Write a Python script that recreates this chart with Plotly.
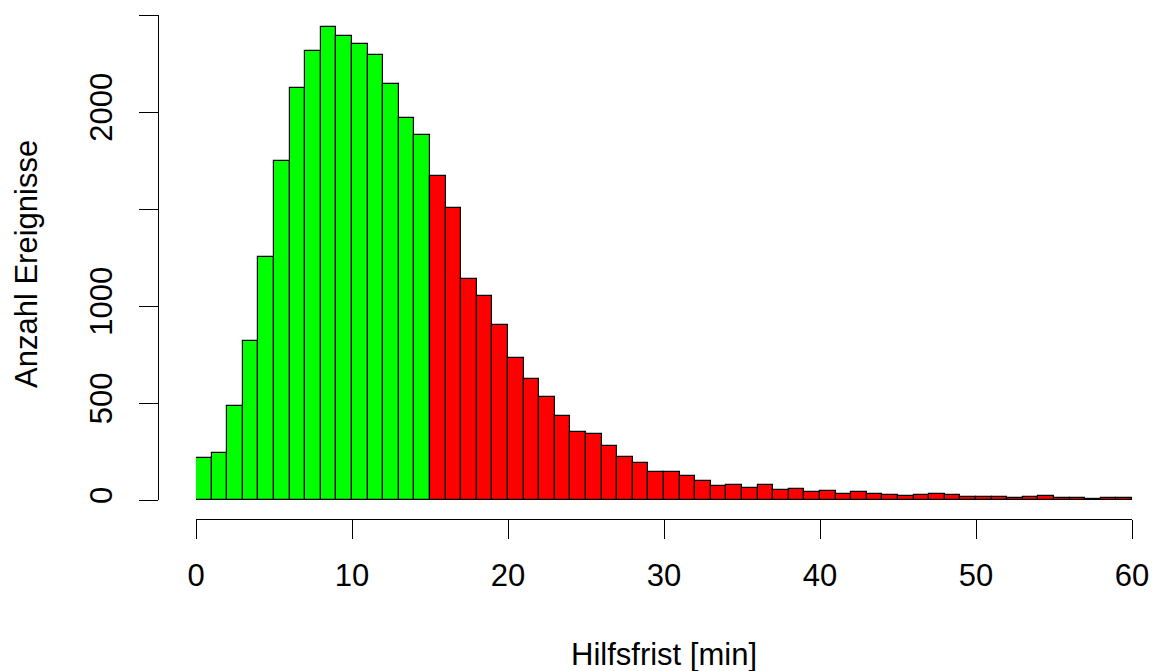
import plotly.graph_objects as go

# Histogram of "Hilfsfrist" (response time) in 1-minute bins, 0..60 min
bin_left = list(range(0, 60))
counts = [215, 243, 482, 822, 1252, 1750, 2125, 2317, 2437, 2391,
          2352, 2295, 2145, 1970, 1884, 1668, 1504, 1138, 1053, 903,
          733, 626, 530, 432, 348, 338, 277, 224, 190, 142,
          142, 125, 97, 73, 76, 61, 75, 51, 56, 39,
          44, 32, 40, 30, 27, 20, 28, 32, 25, 14,
          16, 18, 11, 16, 20, 8, 11, 6, 10, 9]
threshold = 15  # minutes: green below, red from here on
green = "#00FF00"
red = "#FF0000"

x_ticks = [0, 10, 20, 30, 40, 50, 60]
y_ticks = [0, 500, 1000, 1500, 2000, 2500]
y_ticktext = ["0", "500", "1000", "", "2000", ""]

colors = [green if b < threshold else red for b in bin_left]
centers = [b + 0.5 for b in bin_left]

FONT = "Liberation Sans, Arial, Helvetica, sans-serif"
FS = 31

fig = go.Figure()
fig.add_trace(go.Bar(
    x=centers, y=counts, width=1.0,
    marker=dict(color=colors, line=dict(color="black", width=1.2)),
    hoverinfo="x+y", showlegend=False,
))

W, H = 1159, 671
L, R, T, B = 158, 27, 15, 152
pw = W - L - R
ph = H - T - B

fig.update_layout(
    width=W, height=H,
    margin=dict(l=L, r=R, t=T, b=B, pad=0, autoexpand=False),
    paper_bgcolor="white", plot_bgcolor="white",
    font=dict(family=FONT, size=FS, color="black"),
    bargap=0,
    xaxis=dict(
        domain=[(196 - L) / pw, 1.0],
        range=[0, 60],
        anchor="free", position=0,
        tickmode="array", tickvals=x_ticks, ticktext=[str(v) for v in x_ticks],
        ticks="outside", ticklen=19, tickwidth=1, tickcolor="black",
        showline=True, linecolor="black", linewidth=1,
        showgrid=False, zeroline=False, automargin=False,
        ticklabelstandoff=10,
        tickfont=dict(family=FONT, size=FS, color="black"),
    ),
    yaxis=dict(
        domain=[(519 - 500) / ph, 1.0],
        range=[0, 2500],
        anchor="free", position=0,
        tickmode="array", tickvals=y_ticks, ticktext=y_ticktext,
        tickangle=-90,
        ticks="outside", ticklen=19, tickwidth=1, tickcolor="black",
        showline=True, linecolor="black", linewidth=1,
        showgrid=False, zeroline=False, automargin=False,
        ticklabelstandoff=15,
        tickfont=dict(family=FONT, size=FS, color="black"),
    ),
    annotations=[
        dict(text="Hilfsfrist [min]", xref="paper", yref="paper",
             x=(664 - L) / pw, y=-(654 - (H - B)) / ph,
             xanchor="center", yanchor="middle", showarrow=False,
             font=dict(family=FONT, size=FS, color="black")),
        dict(text="Anzahl Ereignisse", xref="paper", yref="paper",
             x=-(L - 26) / pw, y=((H - B) - 264) / ph,
             xanchor="center", yanchor="middle", textangle=-90, showarrow=False,
             font=dict(family=FONT, size=FS, color="black")),
    ],
)

fig.write_html(
    "out.html",
    config={"displayModeBar": False},
    post_script="document.body.style.margin='0';document.body.style.overflow='hidden';",
)
